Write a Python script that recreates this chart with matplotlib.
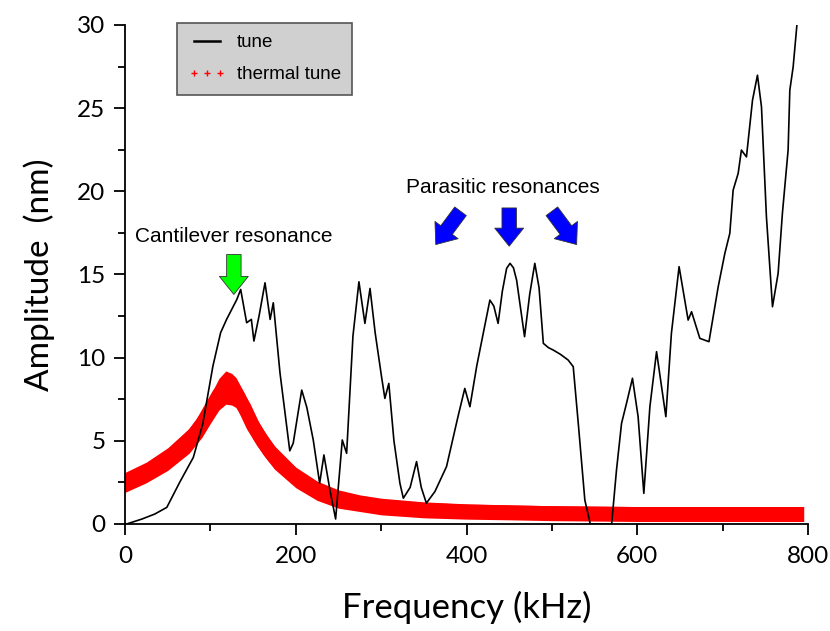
import matplotlib
matplotlib.use("Agg")
import matplotlib.pyplot as plt
from matplotlib.patches import FancyArrowPatch
from matplotlib.lines import Line2D
import numpy as np

# ---- data ----
tune_freq = [2, 20, 35, 49, 64, 80, 91, 103, 112, 119, 125, 131, 135.5, 142.5, 148, 151, 157,
             164, 170, 173.7, 181.5, 193, 197, 207, 213, 220.5, 228, 233, 240, 246.7, 254.5,
             259.6, 267, 274, 281, 287, 293, 300.5, 304.4, 309, 315, 322, 326, 334, 341.5, 347,
             353, 363, 376.6, 390, 398, 404, 412, 419.6, 427.4, 432, 437, 442, 447, 451, 455,
             458.7, 468, 474, 480, 485, 490, 496, 501.5, 510, 519, 525, 531, 538.6, 545, 560,
             570, 575.7, 581.6, 587.4, 594.4, 601, 607.7, 614.8, 622.6, 633.5, 640, 649, 659.6,
             663.6, 673.3, 684, 694.8, 702.6, 708.4, 712.3, 718.2, 722, 727.9, 735, 740.8,
             745.5, 751.3, 758.4, 765, 770, 776.7, 778.7, 782.6, 787]
tune_amp = [0.0, 0.3, 0.6, 1.0, 2.5, 4.0, 6.0, 9.5, 11.5, 12.3, 12.9, 13.5, 14.1, 12.1, 12.3,
            11.0, 12.5, 14.5, 12.3, 13.3, 9.1, 4.4, 4.85, 8.05, 7.0, 5.05, 2.45, 4.15, 2.05,
            0.3, 5.05, 4.25, 11.3, 14.56, 12.06, 14.16, 11.5, 8.85, 7.55, 8.45, 5.0, 2.45,
            1.55, 2.2, 3.75, 2.2, 1.25, 1.95, 3.45, 6.45, 8.15, 7.05, 9.5, 11.46, 13.46, 13.1,
            12.06, 14.0, 15.37, 15.67, 15.4, 14.66, 11.26, 13.8, 15.67, 14.2, 10.86, 10.6,
            10.46, 10.2, 9.86, 9.46, 6.0, 1.44, 0.0, 0.0, 0.0, 3.25, 6.05, 7.25, 8.76, 6.45,
            1.84, 7.05, 10.36, 6.45, 11.46, 15.47, 12.26, 12.76, 11.16, 10.96, 14.26, 16.27,
            17.47, 20.07, 21.08, 22.48, 22.07, 25.48, 26.98, 25.08, 18.47, 13.06, 15.07, 18.67,
            22.48, 26.08, 27.48, 30.0]

thermal_freq = [0, 25, 50, 75, 90, 100, 110, 118, 125, 130, 140, 150, 162, 175, 200, 225, 250,
                275, 300, 350, 400, 450, 500, 600, 700, 795]
thermal_amp = [2.5, 3.1, 3.9, 5.0, 6.0, 6.9, 7.8, 8.2, 8.1, 7.9, 7.0, 5.9, 4.9, 4.0, 2.8, 2.0,
               1.5, 1.25, 1.05, 0.85, 0.75, 0.7, 0.65, 0.6, 0.6, 0.6]
thermal_halfwidth = [0.6, 0.62, 0.68, 0.75, 0.8, 0.85, 0.95, 1.0, 0.95, 0.9, 0.85, 0.8, 0.75,
                     0.7, 0.62, 0.58, 0.55, 0.5, 0.5, 0.48, 0.46, 0.45, 0.45, 0.45, 0.45, 0.45]

x_ticks = [0, 200, 400, 600, 800]
y_ticks = [0, 5, 10, 15, 20, 25, 30]

# ---- figure ----
fig = plt.figure(figsize=(8.30, 6.31), dpi=100)
ax = fig.add_axes([0.1506, 0.1696, 0.8229, 0.7908])

t_amp = np.array(thermal_amp)
t_hw = np.array(thermal_halfwidth)
ax.fill_between(thermal_freq, t_amp - t_hw, t_amp + t_hw, color="#ff0000", lw=0, zorder=2)
ax.plot(thermal_freq, thermal_amp, color="#ff0000", lw=10, solid_capstyle="butt",
        solid_joinstyle="round", zorder=2)
ax.plot(tune_freq, tune_amp, color="black", lw=1.2, zorder=3)

ax.set_xlim(0, 800)
ax.set_ylim(0, 30)
ax.set_xticks(x_ticks)
ax.set_yticks(y_ticks)
ax.set_xticks([100, 300, 500, 700], minor=True)
ax.set_yticks([2.5, 7.5, 12.5, 17.5, 22.5, 27.5], minor=True)
ax.spines["top"].set_visible(False)
ax.spines["right"].set_visible(False)
for s in ("left", "bottom"):
    ax.spines[s].set_linewidth(1.3)
ax.tick_params(which="major", direction="out", length=8, width=1.3, pad=6)
ax.tick_params(axis="x", which="major", pad=8)
ax.tick_params(which="minor", direction="out", length=5, width=1.3)
for lab in ax.get_xticklabels() + ax.get_yticklabels():
    lab.set_fontfamily("Lato")
    lab.set_fontsize(17.5)

ax.set_xlabel("Frequency (kHz)", fontfamily="Lato", fontsize=25, labelpad=17)
ax.set_ylabel("Amplitude  (nm)", fontfamily="Lato", fontsize=24, labelpad=16)

# annotations
ax.text(127.5, 17.3, "Cantilever resonance", fontfamily="Liberation Sans", fontsize=15,
        ha="center", va="center")
ax.text(443, 20.2, "Parasitic resonances", fontfamily="Liberation Sans", fontsize=15,
        ha="center", va="center")

def block_arrow(x0, y0, x1, y1, color):
    a = FancyArrowPatch((x0, y0), (x1, y1),
                        arrowstyle="simple,head_width=1.6,head_length=1.0,tail_width=0.8",
                        mutation_scale=13, facecolor=color, edgecolor="#333333",
                        lw=0.6, zorder=5, shrinkA=0, shrinkB=0)
    ax.add_patch(a)

block_arrow(127.5, 16.2, 127.5, 13.8, "#00ff00")
block_arrow(393, 18.8, 364, 16.8, "#0000ff")
block_arrow(450, 19.0, 450, 16.7, "#0000ff")
block_arrow(500, 18.8, 529, 16.8, "#0000ff")

# legend
handles = [Line2D([], [], color="black", lw=1.8),
           Line2D([], [], color="#ff0000", lw=0, marker="+", ms=4, mew=1)]
leg = ax.legend(handles, ["tune", "thermal tune"], loc="upper left",
                bbox_to_anchor=(0.076, 1.004), prop={"family": "Liberation Sans", "size": 13.5},
                frameon=True, fancybox=False, handlelength=2.0, borderpad=0.6,
                labelspacing=0.8, handletextpad=0.6, numpoints=3, borderaxespad=0)
leg.get_frame().set_facecolor("#d0d0d0")
leg.get_frame().set_edgecolor("#555555")
leg.get_frame().set_linewidth(1.2)
leg.get_frame().set_alpha(1)

fig.savefig("out.png", dpi=100)
